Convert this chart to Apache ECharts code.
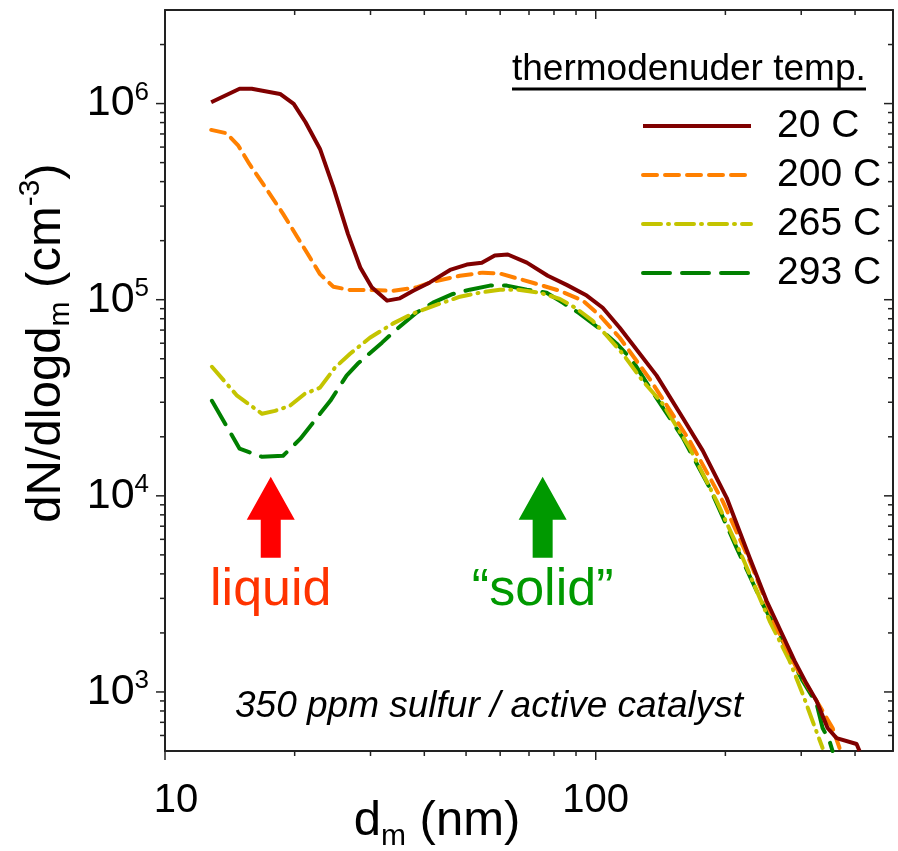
<!DOCTYPE html>
<html><head><meta charset="utf-8">
<script src="https://cdn.jsdelivr.net/npm/echarts@6/dist/echarts.min.js"></script>
<style>html,body{margin:0;padding:0;background:#fff}#c{width:898px;height:851px}</style>
</head><body><div id="c"></div>
<script>
// ---- data ----
const seriesNames = ['20 C', '200 C', '265 C', '293 C'];
const seriesColors = ['#800000', '#FF8000', '#C4C400', '#008000'];

const d20 = [12.8,14.9,15.9,18.5,19.9,21.2,22.9,24.6,26.6,28.4,30.2,32.8,35.1,37.7,41.2,45.9,50.2,54.4,58.3,62.5,69.2,77.4,85.6,95.3,103.8,113.7,138.5,159.2,177.2,201.4,227.7,249.4,289.5,308.8,325.7,345.4,362.4,403.3,409.7];
const n20 = [1.015e6,1.19e6,1.19e6,1.12e6,9.96e5,8.03e5,5.87e5,3.74e5,2.16e5,1.46e5,1.156e5,9.89e4,1.016e5,1.11e5,1.225e5,1.418e5,1.51e5,1.545e5,1.68e5,1.70e5,1.545e5,1.325e5,1.19e5,1.05e5,9.1e4,7.2e4,4.1e4,2.5e4,1.7e4,9.77e3,4.83e3,2.91e3,1.44e3,1.10e3,9.0e2,6.55e2,5.82e2,5.43e2,5.0e2];

const d200 = [12.8,13.9,14.8,15.7,17.2,18.8,20.2,21.7,22.9,24.6,26.9,29.9,33.9,38.4,41.9,48.4,54.7,59.9,71.4,82.5,93.3,102.2,113.7,133.4,165.2,197.1,227.7,263,292.7,325.7,354.7,368.2];
const n200 = [7.34e5,7.06e5,6.1e5,4.92e5,3.67e5,2.74e5,2.12e5,1.64e5,1.35e5,1.165e5,1.12e5,1.12e5,1.11e5,1.156e5,1.236e5,1.325e5,1.374e5,1.36e5,1.22e5,1.11e5,9.9e4,8.3e4,6.4e4,3.95e4,1.91e4,9.4e3,4.66e3,2.12e3,1.32e3,9.0e2,6.55e2,5.18e2];

const d265 = [12.85,14.7,16.8,18.0,19.5,21.1,22.9,24.8,26.9,29.9,33.8,37.6,43.5,48.4,53.8,59.9,65.6,74.1,82.5,90.3,98.4,106.1,115.5,128.5,143,165.2,190.9,219.3,253.4,281.9,302.2,318.8,336.3];
const n265 = [4.55e4,3.24e4,2.62e4,2.71e4,2.88e4,3.31e4,3.56e4,4.5e4,5.3e4,6.4e4,7.55e4,8.5e4,9.55e4,1.036e5,1.086e5,1.125e5,1.125e5,1.086e5,1.01e5,9.0e4,7.8e4,6.55e4,5.3e4,3.86e4,2.95e4,1.76e4,9.4e3,4.83e3,2.3e3,1.44e3,9.8e2,7.1e2,5.18e2];

const d293 = [12.85,14.9,16.8,18.8,20.6,22.9,24.2,26.4,28.0,31.9,34.2,38.4,41.9,46.6,51.0,56.8,62.2,69.2,76.9,83.8,91.8,102.2,111.9,121.8,133.4,159.2,183.9,212.4,244.1,271.6,302.2,325.7,336.3,349,354.7];
const n293 = [3.05e4,1.74e4,1.58e4,1.6e4,1.95e4,2.62e4,3.05e4,4.1e4,4.71e4,6.04e4,6.95e4,8.6e4,9.66e4,1.07e5,1.125e5,1.18e5,1.18e5,1.125e5,1.086e5,9.66e4,8.5e4,7.1e4,5.97e4,4.89e4,3.56e4,1.98e4,1.1e4,5.43e3,2.81e3,1.82e3,1.14e3,8.7e2,6.55e2,5.62e2,5.0e2];

const xMin = 10, xMax = 490, yMin = 500, yMax = 3e6;
const xTicks = [10,20,30,40,50,60,70,80,90,100,200,300,400];
const yTicks = [600,700,800,900,1e3,2e3,3e3,4e3,5e3,6e3,7e3,8e3,9e3,1e4,2e4,3e4,4e4,5e4,6e4,7e4,8e4,9e4,1e5,2e5,3e5,4e5,5e5,6e5,7e5,8e5,9e5,1e6,2e6];

const annoX = [17.6, 75.3];
const annoTipY = [1.25e4, 1.25e4];
const annoText = ['liquid', '\u201Csolid\u201D'];
const annoColors = ['#FF0000', '#009900'];
const annoTextColors = ['#FF3300', '#009900'];

const FONT = 'Arial, "Liberation Sans", sans-serif';

const dashes = [null, [14, 8], [18, 7, 1, 7], [27, 12]];
const allD = [d20, d200, d265, d293];
const allN = [n20, n200, n265, n293];

function isPow10(v) { const l = Math.log10(v); return Math.abs(l - Math.round(l)) < 1e-6; }

const lineSeries = seriesNames.map((name, i) => ({
  name, type: 'line', symbol: 'none', smooth: false,
  data: allD[i].map((d, k) => [d, allN[i][k]]),
  lineStyle: { color: seriesColors[i], width: 4, type: dashes[i] || 'solid', cap: dashes[i] ? 'round' : 'butt', join: 'round' },
  itemStyle: { color: seriesColors[i] },
  z: 3 + (3 - i), silent: true
}));

const chart = echarts.init(document.getElementById('c'), null, { renderer: 'canvas' });

function tickRender(isX) {
  return function (params, api) {
    const cs = params.coordSys;
    const v = api.value(isX ? 0 : 1);
    const major = isPow10(v);
    const len = major ? 9 : 5;
    const st = { stroke: '#222', lineWidth: 1.5 };
    if (isX) {
      const px = api.coord([v, yMin])[0];
      const yb = cs.y + cs.height, yt = cs.y;
      return { type: 'group', children: [
        { type: 'line', shape: { x1: px, y1: yb, x2: px, y2: yb + len }, style: st },
        { type: 'line', shape: { x1: px, y1: yt, x2: px, y2: yt + len }, style: st }
      ]};
    } else {
      const py = api.coord([xMin, v])[1];
      const xl = cs.x, xr = cs.x + cs.width;
      return { type: 'group', children: [
        { type: 'line', shape: { x1: xl, y1: py, x2: xl - len, y2: py }, style: st },
        { type: 'line', shape: { x1: xr, y1: py, x2: xr - len, y2: py }, style: st }
      ]};
    }
  };
}

const axisLineStyle = { lineStyle: { color: '#222', width: 2 } };

chart.setOption({
  animation: false,
  backgroundColor: '#fff',
  grid: { left: 165, top: 10, right: 5, bottom: 100, containLabel: false },
  xAxis: [
    { type: 'log', logBase: 10, min: xMin, max: xMax, position: 'bottom',
      axisLine: axisLineStyle, axisTick: { show: false }, splitLine: { show: false },
      axisLabel: { margin: 30, color: '#000',
        formatter: v => !isPow10(v) ? '' : (Math.round(v) === xMin ? '{f|' + Math.round(v) + '}' : '{t|' + Math.round(v) + '}'),
        rich: {
          t: { fontSize: 40, fontFamily: FONT, color: '#000' },
          f: { fontSize: 40, fontFamily: FONT, color: '#000', padding: [0, 0, 0, 22] }
        } } },
    { type: 'log', logBase: 10, min: xMin, max: xMax, position: 'top',
      axisLine: axisLineStyle, axisTick: { show: false }, splitLine: { show: false }, axisLabel: { show: false } }
  ],
  yAxis: [
    { type: 'log', logBase: 10, min: yMin, max: yMax, position: 'left',
      axisLine: axisLineStyle, axisTick: { show: false }, splitLine: { show: false },
      axisLabel: { margin: 16, color: '#000',
        formatter: v => isPow10(v) ? '{b|10}{s|' + Math.round(Math.log10(v)) + '}' : '',
        rich: {
          b: { fontSize: 43, fontFamily: FONT, color: '#000', lineHeight: 48 },
          s: { fontSize: 26, fontFamily: FONT, color: '#000', lineHeight: 26, verticalAlign: 'top' }
        } } },
    { type: 'log', logBase: 10, min: yMin, max: yMax, position: 'right',
      axisLine: axisLineStyle, axisTick: { show: false }, splitLine: { show: false }, axisLabel: { show: false } }
  ],
  legend: {
    data: seriesNames, orient: 'vertical', left: 641, top: 106, padding: 0,
    itemWidth: 108, itemHeight: 20, itemGap: 9, selectedMode: false,
    itemStyle: { opacity: 0 },
    lineStyle: { width: 4 },
    textStyle: { fontSize: 39, fontFamily: FONT, color: '#000', lineHeight: 40, padding: [0, 0, 0, 21] }
  },
  series: [
    ...lineSeries,
    { type: 'custom', silent: true, renderItem: tickRender(true), data: xTicks.map(v => [v, 1000]), z: 10, clip: false },
    { type: 'custom', silent: true, renderItem: tickRender(false), data: yTicks.map(v => [20, v]), z: 10, clip: false }
  ]
});

// ---- annotations ----
const g = [];
annoX.forEach((x, i) => {
  const p = chart.convertToPixel({ gridIndex: 0 }, [x, annoTipY[i]]);
  const cx = p[0], ty = p[1];
  g.push({ type: 'polygon', silent: true, z: 20,
    shape: { points: [[cx, ty], [cx + 24, ty + 43], [cx + 10, ty + 43], [cx + 10, ty + 81], [cx - 10, ty + 81], [cx - 10, ty + 43], [cx - 24, ty + 43]] },
    style: { fill: annoColors[i] } });
  g.push({ type: 'text', silent: true, z: 20,
    style: { x: cx, y: ty + 114, text: annoText[i], font: '52px ' + FONT, fill: annoTextColors[i], textAlign: 'center', textVerticalAlign: 'middle' } });
});
// legend title
g.push({ type: 'text', silent: true, z: 20,
  style: { x: 512, y: 70, text: 'thermodenuder temp.', font: '37px ' + FONT, fill: '#000', textAlign: 'left', textVerticalAlign: 'middle' } });
g.push({ type: 'line', silent: true, z: 20, shape: { x1: 512, y1: 89, x2: 866, y2: 89 }, style: { stroke: '#000', lineWidth: 3 } });
// condition note
g.push({ type: 'text', silent: true, z: 20,
  style: { x: 489, y: 707, text: '350 ppm sulfur / active catalyst', font: 'italic 37px ' + FONT, fill: '#000', textAlign: 'center', textVerticalAlign: 'middle' } });
// axis titles
g.push({ type: 'text', silent: true, z: 20,
  style: { x: 437, y: 821, text: '{n|d}{s|m}{n| (nm)}', textAlign: 'center', textVerticalAlign: 'middle',
    rich: { n: { fontSize: 49, fontFamily: FONT, color: '#000', lineHeight: 62 },
            s: { fontSize: 30, fontFamily: FONT, color: '#000', lineHeight: 30, verticalAlign: 'bottom' } } } });
g.push({ type: 'text', silent: true, z: 20, x: 46, y: 343, rotation: Math.PI / 2,
  style: { x: 0, y: 0, text: '{n|dN/dlogd}{s|m}{n| (cm}{p|-3}{n|)}', textAlign: 'center', textVerticalAlign: 'middle',
    rich: { n: { fontSize: 49, fontFamily: FONT, color: '#000', lineHeight: 60 },
            s: { fontSize: 30, fontFamily: FONT, color: '#000', lineHeight: 30, verticalAlign: 'bottom' },
            p: { fontSize: 30, fontFamily: FONT, color: '#000', lineHeight: 30, verticalAlign: 'top' } } } });
chart.setOption({ graphic: g });
</script>
</body></html>
